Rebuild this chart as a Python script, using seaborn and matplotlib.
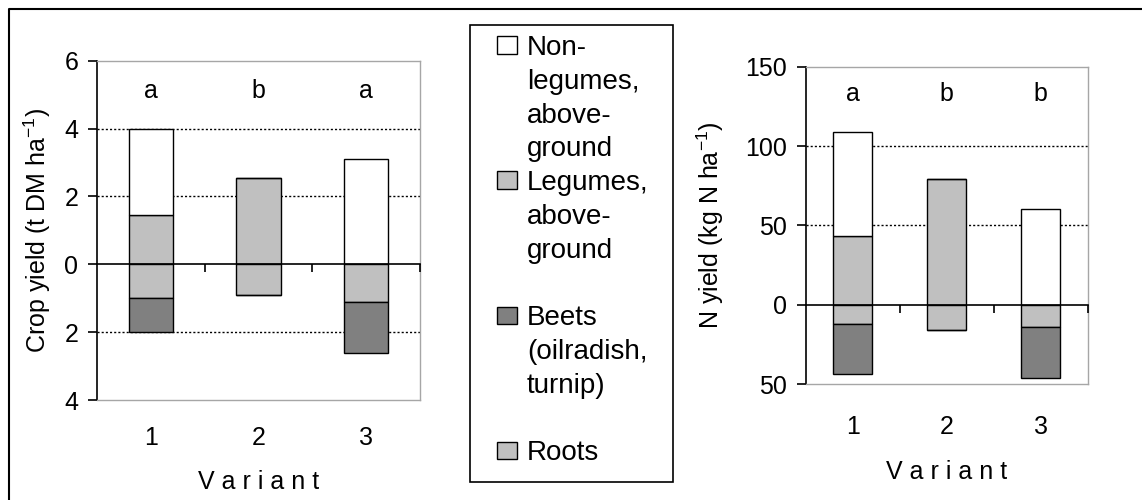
import numpy as np
import matplotlib
matplotlib.use("Agg")
import matplotlib.pyplot as plt
import seaborn as sns
from matplotlib.patches import Rectangle
from matplotlib.lines import Line2D
from matplotlib.ticker import FuncFormatter

# data
variants = ["1", "2", "3"]

# crop yield (t DM/ha): above ground up, below ground down
dm_legumes = [1.45, 2.55, 0.0]
dm_nonlegumes = [2.55, 0.0, 3.1]
dm_roots = [1.0, 0.9, 1.1]
dm_beets = [1.0, 0.0, 1.52]
dm_letters = ["a", "b", "a"]

# N yield (kg N/ha)
n_legumes = [43.0, 79.5, 0.0]
n_nonlegumes = [66.0, 0.0, 60.5]
n_roots = [12.0, 16.0, 14.0]
n_beets = [32.0, 0.0, 32.5]
n_letters = ["a", "b", "b"]

legend_labels = ["Non-\nlegumes,\nabove-\nground",
                 "Legumes,\nabove-\nground",
                 "Beets\n(oilradish,\nturnip)",
                 "Roots"]

C_NON = "white"
C_LEG = "#c0c0c0"
C_BEET = "#808080"
C_ROOT = "#c0c0c0"
legend_colors = [C_NON, C_LEG, C_BEET, C_ROOT]

FS = 18

sns.set_theme(style="white")
plt.rcParams["font.family"] = ["Liberation Sans", "DejaVu Sans"]
plt.rcParams["mathtext.fontset"] = "custom"
plt.rcParams["mathtext.rm"] = "Liberation Sans"
plt.rcParams["mathtext.default"] = "regular"

W, H = 1142, 500
fig = plt.figure(figsize=(W / 100, H / 100), dpi=100)
ax1 = fig.add_axes([97 / W, 1 - 400 / H, 323 / W, 339.3 / H])
ax2 = fig.add_axes([805.7 / W, 1 - 384 / H, 282 / W, 317.3 / H])


def panel(ax, legumes, nonleg, roots, beets, letters, ymin, ymax, step,
          letter_y, ylabel, xpad, xlab_y, ylab_x):
    leg = np.array(legumes)
    non = np.array(nonleg)
    rt = np.array(roots)
    bt = np.array(beets)
    kw = dict(x=variants, width=0.41, edgecolor="black", linewidth=1,
              errorbar=None, saturation=1, ax=ax, zorder=3)
    sns.barplot(y=leg, bottom=0, color=C_LEG, **kw)
    sns.barplot(y=non, bottom=leg, color=C_NON, **kw)
    sns.barplot(y=-rt, bottom=0, color=C_ROOT, **kw)
    sns.barplot(y=-bt, bottom=-rt, color=C_BEET, **kw)

    ax.set_xlim(-0.5, 2.5)
    ax.set_ylim(ymin, ymax)
    ticks = np.arange(ymin, ymax + step / 2, step)
    ax.set_yticks(ticks)
    ax.yaxis.set_major_formatter(FuncFormatter(lambda v, p: f"{abs(v):g}"))
    # dotted grid lines inside the frame
    for t in ticks[1:-1]:
        if t != 0:
            ax.axhline(t, color="black", lw=1, ls=(0, (1.5, 1.5)), zorder=1.5)

    for s in ["top", "right", "bottom"]:
        ax.spines[s].set_color("#a6a6a6")
        ax.spines[s].set_linewidth(1)
    ax.spines["left"].set_color("black")
    ax.spines["left"].set_linewidth(1.2)
    ax.tick_params(axis="y", left=True, length=6.5, width=1.2, pad=7,
                   labelsize=FS, color="black", labelcolor="black", direction="out")
    ax.tick_params(axis="x", bottom=False, length=0, pad=xpad, labelsize=FS,
                   labelcolor="black")

    # zero line with category separator ticks
    zax = ax.secondary_xaxis((0 - ymin) / (ymax - ymin))
    zax.set_alignment("bottom")
    zax.set_xticks([0.5, 1.5, 2.5])
    zax.tick_params(axis="x", bottom=True, length=6, width=1.2, direction="out",
                    labelbottom=False, color="black")
    zax.spines["bottom"].set_color("black")
    zax.spines["bottom"].set_linewidth(1.2)
    zax.set_zorder(4)

    for i, l in enumerate(letters):
        ax.text(i, letter_y, l, ha="center", va="center", fontsize=FS, color="black")

    ax.set_xlabel("V a r i a n t", fontsize=FS, color="black")
    ax.xaxis.set_label_coords(0.5, xlab_y)
    ax.set_ylabel(ylabel, fontsize=FS, color="black")
    ax.yaxis.set_label_coords(ylab_x, 0.5)


panel(ax1, dm_legumes, dm_nonlegumes, dm_roots, dm_beets, dm_letters,
      -4, 6, 2, 5.1, "Crop yield (t DM ha$^{-1}$)", 19, -0.205, -0.136)
panel(ax2, n_legumes, n_nonlegumes, n_roots, n_beets, n_letters,
      -50, 150, 50, 133.0, "N yield (kg N ha$^{-1}$)", 22, -0.24, -0.281)

# legend: handle on the first line of each entry, entries padded to equal height
nlines = max(len(l.split("\n")) for l in legend_labels)
handles, labels = [], []
for k, (lab, col) in enumerate(zip(legend_labels, legend_colors)):
    parts = lab.split("\n")
    if k < len(legend_labels) - 1:
        parts = parts + [" "] * (nlines - len(parts))
    for j, p in enumerate(parts):
        if j == 0:
            handles.append(Rectangle((0, 0), 1, 1, facecolor=col, edgecolor="black", lw=1))
        else:
            handles.append(Rectangle((0, 0), 1, 1, facecolor="none", edgecolor="none"))
        labels.append(p)

fig.legend(handles, labels, loc="upper left", bbox_to_anchor=(497 / W, 1 - 35 / H),
           frameon=False, fontsize=20, borderaxespad=0, borderpad=0,
           handlelength=0.72, handleheight=0.61, handletextpad=0.36,
           labelspacing=0.28, labelcolor="black")
fig.add_artist(Rectangle((470 / W, 1 - 482 / H), 203 / W, 457 / H, transform=fig.transFigure,
                         fill=False, edgecolor="black", lw=1.2))

# outer frame (top and left edges)
fig.add_artist(Line2D([9 / W, 9 / W, 1], [0, 1 - 9 / H, 1 - 9 / H],
                      transform=fig.transFigure, color="black", lw=1.5))

fig.savefig("out.png", dpi=100, facecolor="white")
